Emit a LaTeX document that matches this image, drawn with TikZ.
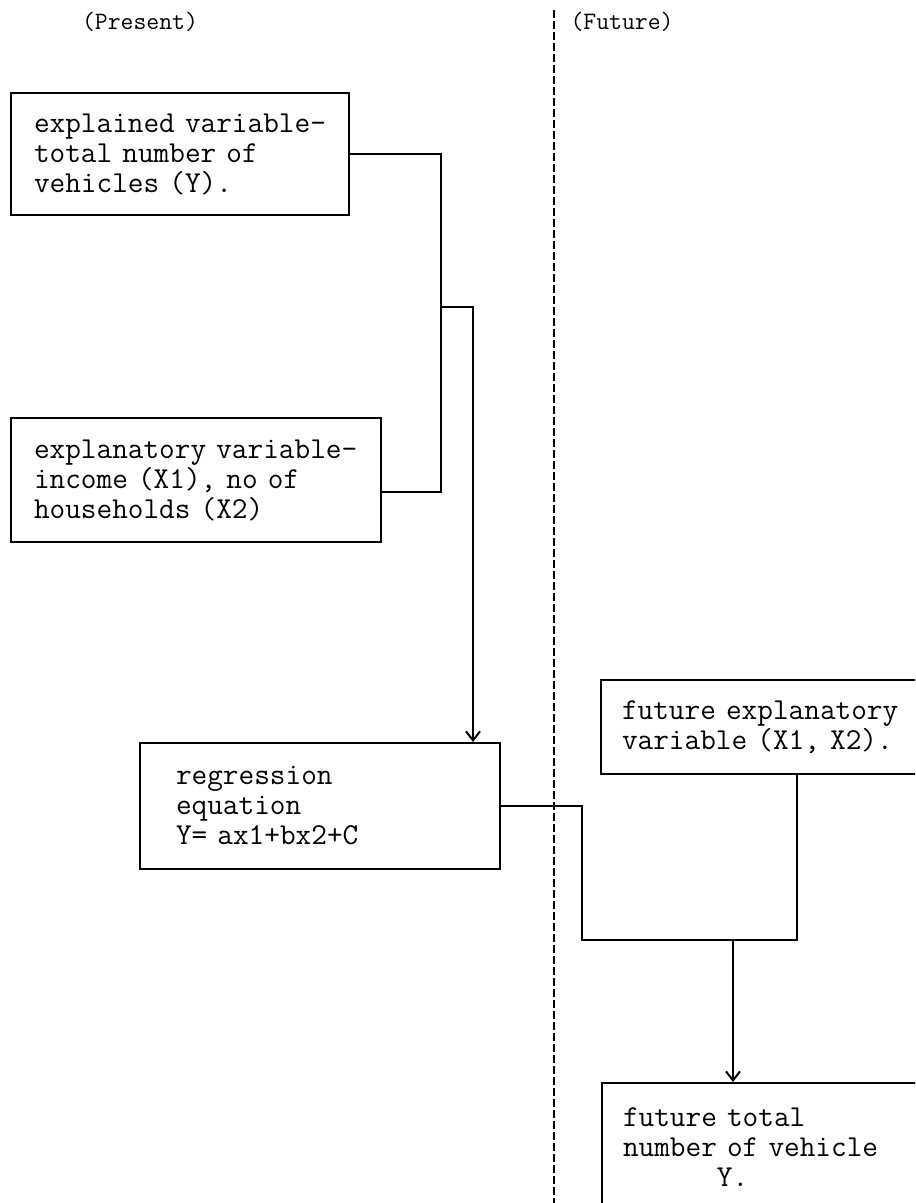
\documentclass[tikz,border=0pt]{standalone}
\usepackage{fontspec}
\usetikzlibrary{arrows.meta}

\begin{document}
\begin{tikzpicture}[x=0.5pt,y=-0.5pt,
  font=\fontsize{15.2}{15}\selectfont\ttfamily,
  varbox/.style={draw, line width=1pt, anchor=north west, align=left, inner ysep=0pt},
  heading/.style={font=\fontsize{12.5}{14}\selectfont\ttfamily},
  link/.style={line width=1pt},
  arrowlink/.style={link, -{Straight Barb[length=4.5pt,width=7pt]}},
  divider/.style={line width=1pt, dash pattern=on 4pt off 1.5pt}]
\clip (0,0) rectangle (915,1203);

% Present / future split
\draw[divider] (554,10) -- (554,1215);
\node[heading] (present) at (140,22) {(Present)};
\node[heading] (future) at (622,22) {(Future)};

% Boxes
\node[varbox, inner xsep=11.5pt, text width=146pt, minimum height=61pt] (explained) at (10,92)
  {explained variable-\\total number of\\vehicles (Y).};
\node[varbox, inner xsep=11.5pt, text width=162pt, minimum height=62pt] (explanatory) at (10,417)
  {explanatory variable-\\income (X1), no of\\households (X2)};
\node[varbox, inner xsep=18pt, text width=144pt, minimum height=63pt] (regression) at (139,742)
  {regression\\equation\\Y= ax1+bx2+C};
\node[varbox, inner xsep=10.5pt, text width=144pt, minimum height=47pt] (futurevar) at (600,679)
  {future explanatory\\variable (X1, X2).};
\node[varbox, inner xsep=10.5pt, text width=144pt, minimum height=64pt] (futuretotal) at (601,1082)
  {future total\\number of vehicle\\\hphantom{number}Y.};

% Connectors
\coordinate (merge) at (441,307);
\coordinate (drop) at (473,307);
\coordinate (bend) at (582,940);
\coordinate (join) at (797,940);
\coordinate (split) at (733,940);

\draw[link] (explained.east) -| (merge) |- ([yshift=-6pt]explanatory.east);
\draw[arrowlink] (merge) -- (drop) -- (drop |- regression.north);
\draw[link] (regression.east) -| (bend) -- (join) -- (join |- futurevar.south);
\draw[arrowlink] (split) -- (split |- futuretotal.north);
\end{tikzpicture}
\end{document}
